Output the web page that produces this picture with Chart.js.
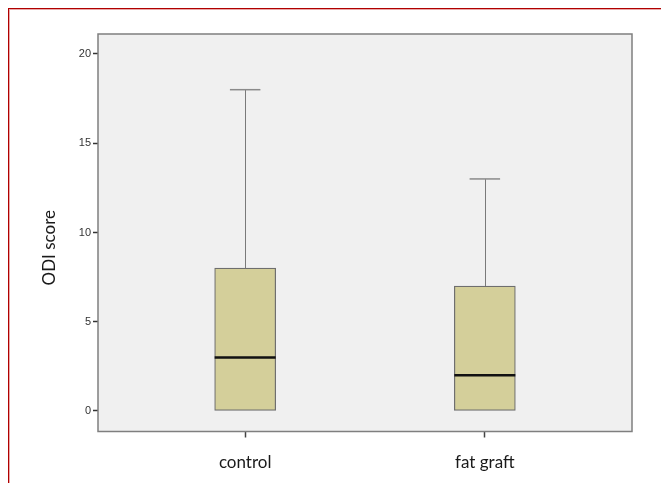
<!DOCTYPE html>
<html>
<head>
<meta charset="utf-8">
<script src="https://cdn.jsdelivr.net/npm/chart.js@4/dist/chart.umd.min.js"></script>
<style>
  html, body { margin: 0; padding: 0; background: #fff; }
  #wrap { position: relative; width: 661px; height: 483px; }
  #frame { position: absolute; left: 8px; top: 8px; width: 700px; height: 600px;
           border-left: 1px solid #b00000; border-top: 1px solid #b00000;
           box-shadow: inset 1px 1px 0 #e9a9a9; pointer-events: none; }
  canvas { position: absolute; left: 0; top: 0; }
</style>
</head>
<body>
<div id="wrap">
<canvas id="c" width="661" height="483"></canvas>
<div id="frame"></div>
</div>
<script>
const categories = ["control", "fat graft"];
const mins    = [0, 0];
const q1      = [0, 0];
const medians = [3, 2];
const q3      = [8, 7];
const maxs    = [18, 13];
const yTicks  = [0, 5, 10, 15, 20];
const yTitle  = "ODI score";

const positions = categories.map((_, i) => i + 1);

const boxPlugin = {
  id: 'boxExtras',
  beforeDraw(chart) {
    const { ctx, chartArea: a } = chart;
    ctx.save();
    ctx.fillStyle = '#f0f0f0';
    ctx.fillRect(a.left, a.top, a.right - a.left, a.bottom - a.top);
    ctx.restore();
  },
  afterDatasetsDraw(chart) {
    const { ctx, chartArea: a } = chart;
    const ys = chart.scales.y;
    const meta = chart.getDatasetMeta(0);
    ctx.save();
    positions.forEach((p, i) => {
      const cx = meta.data[i].x;
      const bw = meta.data[i].width;
      const wx = Math.round(cx) + 0.5;
      ctx.strokeStyle = '#7a7a7a';
      ctx.lineWidth = 1;
      ctx.beginPath();
      ctx.moveTo(wx, ys.getPixelForValue(q3[i]));
      ctx.lineTo(wx, ys.getPixelForValue(maxs[i]));
      ctx.moveTo(wx, ys.getPixelForValue(q1[i]));
      ctx.lineTo(wx, ys.getPixelForValue(mins[i]));
      ctx.stroke();
      ctx.strokeStyle = '#8a8a8a';
      ctx.lineWidth = 1.5;
      ctx.beginPath();
      const yMax = ys.getPixelForValue(maxs[i]);
      ctx.moveTo(cx - bw / 4, yMax);
      ctx.lineTo(cx + bw / 4, yMax);
      ctx.stroke();
      ctx.strokeStyle = '#111';
      ctx.lineWidth = 2.5;
      ctx.beginPath();
      const ym = ys.getPixelForValue(medians[i]);
      ctx.moveTo(cx - bw / 2, ym);
      ctx.lineTo(cx + bw / 2, ym);
      ctx.stroke();
    });
    ctx.strokeStyle = '#7f7f7f';
    ctx.lineWidth = 1.5;
    ctx.strokeRect(a.left, a.top, a.right - a.left, a.bottom - a.top);
    // y axis title (placed slightly below the axis centre, as in the original)
    ctx.translate(50, (a.top + a.bottom) / 2 + 15);
    ctx.rotate(-Math.PI / 2);
    ctx.font = '17px Lato';
    ctx.fillStyle = '#1a1a1a';
    ctx.textAlign = 'center';
    ctx.textBaseline = 'middle';
    ctx.fillText(yTitle, 0, 0);
    ctx.restore();
  }
};

new Chart(document.getElementById('c'), {
  type: 'bar',
  data: {
    datasets: [{
      data: positions.map((p, i) => ({ x: p, y: [q1[i], q3[i]] })),
      backgroundColor: '#d4cf9a',
      borderColor: '#6e6e6e',
      borderWidth: 1.2,
      borderSkipped: false,
      barThickness: 61
    }]
  },
  options: {
    responsive: false,
    animation: false,
    layout: { padding: { top: 34, right: 29, left: 0, bottom: 0 } },
    plugins: { legend: { display: false }, tooltip: { enabled: false } },
    scales: {
      x: {
        type: 'linear',
        offset: false,
        min: 0.386, max: 2.614,
        afterBuildTicks(s) { s.ticks = positions.map(v => ({ value: v })); },
        afterFit(s) { s.height = 51.5; },
        ticks: {
          callback: (v) => categories[Math.round(v) - 1] || '',
          font: { family: 'Lato', size: 17 },
          color: '#1a1a1a',
          padding: 15,
          maxRotation: 0
        },
        grid: { offset: false, drawOnChartArea: false, drawTicks: true, tickLength: 6, tickColor: '#444', tickWidth: 1.5 },
        border: { display: false }
      },
      y: {
        min: -1.15, max: 21.12,
        afterBuildTicks(s) { s.ticks = yTicks.map(v => ({ value: v })); },
        afterFit(s) { s.width = 98; },
        ticks: {
          font: { family: 'Liberation Sans', size: 11 },
          color: '#333',
          padding: 2
        },
        grid: { drawOnChartArea: false, drawTicks: true, tickLength: 5, tickColor: '#333', tickWidth: 1.5 },
        border: { display: false }
      }
    }
  },
  plugins: [boxPlugin]
});
</script>
</body>
</html>
